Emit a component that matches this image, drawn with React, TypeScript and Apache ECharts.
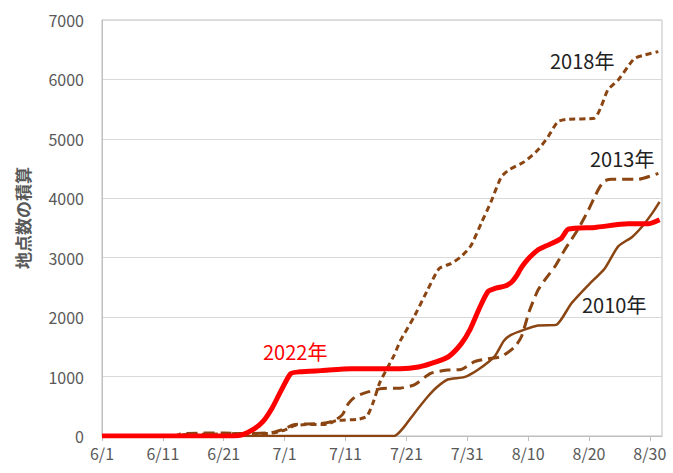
import React, { useEffect, useRef } from "react";
import * as echarts from "echarts";

// x = days since 6/1
const tickLabels = ["6/1", "6/11", "6/21", "7/1", "7/11", "7/21", "7/31", "8/10", "8/20", "8/30"];
const yTicks = [0, 1000, 2000, 3000, 4000, 5000, 6000, 7000];

const days2022 = [0, 21, 23, 25, 26.5, 28, 29.5, 31, 32.5, 36, 41, 49, 52, 55, 57, 59, 60.5, 62, 63.4, 64.7, 66.1, 67.2, 68, 69, 70, 71.6, 73, 74.3, 75.5, 76.6, 81, 86.4, 89.7, 91.6];
const vals2022 = [0, 0, 20, 120, 250, 480, 780, 1050, 1080, 1100, 1130, 1130, 1160, 1250, 1340, 1550, 1800, 2150, 2430, 2490, 2520, 2580, 2680, 2850, 2980, 3130, 3200, 3260, 3330, 3480, 3510, 3570, 3570, 3640];

const days2018 = [0, 12, 14, 18, 22, 26, 28, 30, 31.5, 33, 37, 38.5, 42, 43.5, 44.5, 45.6, 46.7, 48, 49, 51.3, 53.5, 55.4, 57.3, 59, 60.6, 62.3, 63.9, 65.6, 66.9, 69.4, 71.6, 73.3, 74.9, 76.6, 80.9, 82, 83.1, 84.8, 86.4, 87.5, 89.2, 91.4];
const vals2018 = [0, 0, 30, 30, 40, 40, 50, 100, 170, 190, 200, 260, 280, 330, 550, 890, 1110, 1360, 1600, 2010, 2460, 2820, 2900, 3020, 3200, 3580, 3940, 4360, 4480, 4617, 4813, 5037, 5290, 5330, 5347, 5542, 5823, 5991, 6215, 6357, 6412, 6468];

const days2013 = [0, 12, 13, 20, 24, 28, 30, 31.5, 36, 38, 39.5, 40.5, 41.5, 42.5, 44, 46, 49, 51.3, 54, 56.8, 59, 61.2, 63.4, 65.6, 67.8, 68.9, 70.2, 71.6, 72.7, 74.4, 76, 78.2, 79.9, 81.5, 82.5, 83.7, 88.1, 91.4];
const vals2013 = [0, 0, 40, 50, 40, 60, 120, 190, 210, 250, 360, 550, 650, 700, 750, 800, 805, 860, 1055, 1110, 1120, 1250, 1300, 1335, 1500, 1670, 2100, 2450, 2620, 2850, 3130, 3480, 3800, 4140, 4290, 4320, 4320, 4420];

const days2010 = [0, 48, 49.6, 51.3, 53.5, 55, 56.8, 59.5, 61.7, 64.5, 66, 67.2, 69.4, 71.6, 74.6, 77.1, 79.9, 82.6, 84.8, 87.1, 88.7, 90.4, 91.6];
const vals2010 = [0, 0, 150, 380, 660, 820, 950, 990, 1110, 1340, 1600, 1700, 1790, 1860, 1870, 2230, 2540, 2820, 3190, 3350, 3520, 3750, 3940];

const seriesNames = ["2022年", "2018年", "2013年", "2010年"];
const yAxisTitle = "地点数の積算";

const zip = (d: number[], v: number[]) => d.map((x, i) => [x, v[i]]);

const FONT = "'Noto Sans CJK JP', 'Noto Sans', sans-serif";
const BROWN = "#8a4512";

export default function App() {
  const ref = useRef<HTMLDivElement>(null);
  useEffect(() => {
    if (!ref.current) return;
    const chart = echarts.init(ref.current, null, { renderer: "svg" });
    chart.setOption({
      animation: false,
      backgroundColor: "#ffffff",
      grid: {
        left: 102,
        right: 11,
        top: 20,
        bottom: 37,
        show: true,
        borderColor: "#bfbfbf",
        borderWidth: 1,
      },
      xAxis: {
        type: "value",
        min: 0,
        max: 92,
        interval: 10,
        splitLine: { show: false },
        axisLine: { show: true, lineStyle: { color: "#bfbfbf" } },
        axisTick: { show: true, length: 5, lineStyle: { color: "#bfbfbf" } },
        axisLabel: {
          color: "#595959",
          fontSize: 16,
          fontFamily: FONT,
          margin: 9,
          formatter: (v: number) => tickLabels[Math.round(v / 10)] ?? "",
        },
      },
      yAxis: {
        type: "value",
        min: yTicks[0],
        max: yTicks[yTicks.length - 1],
        interval: 1000,
        splitLine: { show: true, lineStyle: { color: "#d9d9d9" } },
        axisLine: { show: true, lineStyle: { color: "#bfbfbf" } },
        axisTick: { show: false },
        axisLabel: {
          color: "#595959",
          fontSize: 16,
          fontFamily: FONT,
          margin: 18,
          formatter: (v: number) => String(v),
        },
      },
      graphic: [
        {
          type: "text",
          x: 22,
          y: 218,
          rotation: Math.PI / 2,
          style: {
            text: yAxisTitle,
            fill: "#595959",
            font: `bold 17px ${FONT}`,
            textAlign: "center",
            textVerticalAlign: "middle",
          },
        },
        {
          type: "text",
          x: 263,
          y: 351,
          style: { text: seriesNames[0], fill: "#ff0000", font: `20px ${FONT}`, textAlign: "left", textVerticalAlign: "middle" },
        },
        {
          type: "text",
          x: 550,
          y: 60,
          style: { text: seriesNames[1], fill: "#222222", font: `20px ${FONT}`, textAlign: "left", textVerticalAlign: "middle" },
        },
        {
          type: "text",
          x: 590,
          y: 158,
          style: { text: seriesNames[2], fill: "#222222", font: `20px ${FONT}`, textAlign: "left", textVerticalAlign: "middle" },
        },
        {
          type: "text",
          x: 582,
          y: 304,
          style: { text: seriesNames[3], fill: "#222222", font: `20px ${FONT}`, textAlign: "left", textVerticalAlign: "middle" },
        },
      ],
      series: [
        {
          name: seriesNames[3],
          type: "line",
          data: zip(days2010, vals2010),
          showSymbol: false,
          smooth: 0.2,
          lineStyle: { color: BROWN, width: 2.5 },
          z: 2,
        },
        {
          name: seriesNames[2],
          type: "line",
          data: zip(days2013, vals2013),
          showSymbol: false,
          smooth: 0.2,
          lineStyle: { color: BROWN, width: 3, type: [11, 6] },
          z: 3,
        },
        {
          name: seriesNames[1],
          type: "line",
          data: zip(days2018, vals2018),
          showSymbol: false,
          smooth: 0.2,
          lineStyle: { color: BROWN, width: 3, type: [6, 4] },
          z: 4,
        },
        {
          name: seriesNames[0],
          type: "line",
          data: zip(days2022, vals2022),
          showSymbol: false,
          smooth: 0.2,
          lineStyle: { color: "#ff0000", width: 5 },
          z: 5,
        },
      ],
    });
    return () => chart.dispose();
  }, []);
  return (
    <div
      ref={ref}
      style={{ position: "fixed", left: 0, top: 0, width: 673, height: 473, background: "#fff" }}
    />
  );
}
